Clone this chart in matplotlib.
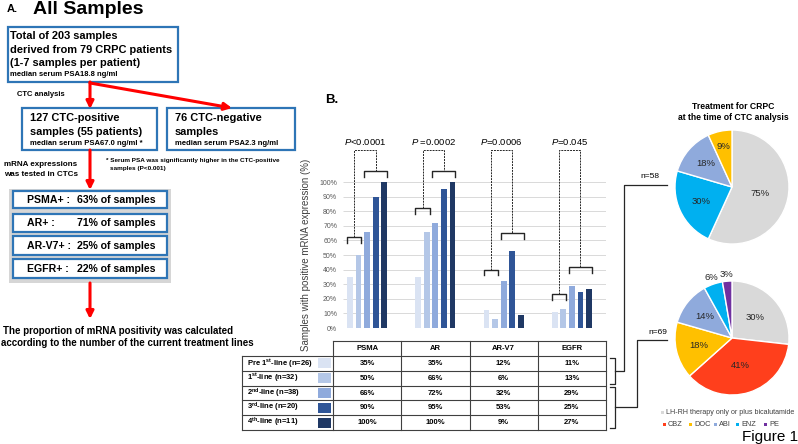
import matplotlib
matplotlib.use('Agg')
import matplotlib.pyplot as plt
from matplotlib.patches import Rectangle
import numpy as np

plt.rcParams['font.family'] = ['Liberation Sans', 'DejaVu Sans']
plt.rcParams['mathtext.fontset'] = 'custom'
plt.rcParams['mathtext.rm'] = 'Liberation Sans'
plt.rcParams['mathtext.it'] = 'Liberation Sans:italic'
plt.rcParams['mathtext.bf'] = 'Liberation Sans:bold'

# ---- data ----
genes = ['PSMA', 'AR', 'AR-V7', 'EGFR']
line_labels = ['Pre 1$^{\\mathbf{st}}$-line (n=26)', '1$^{\\mathbf{st}}$-line (n=32)',
               '2$^{\\mathbf{nd}}$-line (n=38)', '3$^{\\mathbf{rd}}$-line (n=20)',
               '4$^{\\mathbf{th}}$-line (n=11)']
pre_first = [35, 35, 12, 11]
first_line = [50, 66, 6, 13]
second_line = [66, 72, 32, 29]
third_line = [90, 95, 53, 25]
fourth_line = [100, 100, 9, 27]
p_values = ['<0.0001', ' =0.0002', '=0.0006', '=0.045']
overall_labels = ['PSMA+ :', 'AR+ :', 'AR-V7+ :', 'EGFR+ :']
overall_pct = [63, 71, 25, 22]

pie1_values = [75, 30, 18, 9]
pie1_colors = ['#D9D9D9', '#00B0F0', '#8FAADC', '#FFC000']
pie2_values = [30, 41, 18, 14, 6, 3]
pie2_colors = ['#D9D9D9', '#FF3F1C', '#FFC000', '#8FAADC', '#00B0F0', '#7030A0']
legend_names = ['CBZ', 'DOC', 'ABI', 'ENZ', 'PE']

line_values = [pre_first, first_line, second_line, third_line, fourth_line]
bar_colors = ['#DAE3F3', '#B4C7E7', '#8FAADC', '#2F5597', '#1F3864']

W, H = 798, 444
fig = plt.figure(figsize=(W / 100, H / 100), dpi=100)
bg = fig.add_axes([0, 0, 1, 1])
bg.set_xlim(0, W)
bg.set_ylim(H, 0)
bg.axis('off')

def box(x0, y0, x1, y1, lw=1.6, fc='white', ec='#2E75B6'):
    bg.add_patch(Rectangle((x0, y0), x1 - x0, y1 - y0, fc=fc, ec=ec, lw=lw))

def arrow(x0, y0, x1, y1):
    bg.annotate('', xy=(x1, y1), xytext=(x0, y0),
                arrowprops=dict(arrowstyle='-|>', color='#FF0000', lw=2.2,
                                mutation_scale=11, shrinkA=0, shrinkB=0))

# ---- panel A ----
bg.text(7, 9, 'A.', fontsize=8, fontweight='bold', va='center')
bg.text(33, 10, 'All Samples', fontsize=14, fontweight='bold', va='center')

big = 7.9
box(8, 27, 178, 82)
bg.text(10, 36, 'Total of 203 samples', fontsize=big, fontweight='bold', va='center')
bg.text(10, 50, 'derived from 79 CRPC patients', fontsize=big, fontweight='bold', va='center')
bg.text(10, 63, '(1-7 samples per patient)', fontsize=big, fontweight='bold', va='center')
bg.text(10, 75, 'median serum PSA18.8 ng/ml', fontsize=5.5, fontweight='bold', va='center')

arrow(90, 82, 90, 109)
arrow(90, 83, 232, 108)
bg.text(17, 95, 'CTC analysis', fontsize=5.5, fontweight='bold', va='center')

box(22, 108, 157, 150)
bg.text(30, 118, '127 CTC-positive', fontsize=big, fontweight='bold', va='center')
bg.text(30, 132, 'samples (55 patients)', fontsize=big, fontweight='bold', va='center')
bg.text(30, 143, 'median serum PSA67.0 ng/ml *', fontsize=5.5, fontweight='bold', va='center')

box(167, 108, 295, 150)
bg.text(175, 118, '76 CTC-negative', fontsize=big, fontweight='bold', va='center')
bg.text(175, 132, 'samples', fontsize=big, fontweight='bold', va='center')
bg.text(175, 143, 'median serum PSA2.3 ng/ml', fontsize=5.5, fontweight='bold', va='center')

bg.text(106, 160, '* Serum PSA was significantly higher in the CTC-positive',
        fontsize=4.6, fontweight='bold', va='center')
bg.text(110, 168, 'samples (P<0.001)', fontsize=4.6, fontweight='bold', va='center')

bg.text(4, 164, 'mRNA expressions', fontsize=5.8, fontweight='bold', va='center')
bg.text(4, 174, 'was tested in CTCs', fontsize=5.8, fontweight='bold', va='center')
arrow(90, 150, 90, 190)

bg.add_patch(Rectangle((9, 189), 162, 94, fc='#D6D6D6', ec='none'))
rows_y = [(191, 208), (214, 232), (236, 255), (259, 278)]
for (y0, y1), lab, pct in zip(rows_y, overall_labels, overall_pct):
    box(13, y0, 167, y1)
    bg.text(27, (y0 + y1) / 2, lab, fontsize=7.6, fontweight='bold', va='center')
    bg.text(77, (y0 + y1) / 2, f'{pct}% of samples', fontsize=7.6, fontweight='bold', va='center')

arrow(90, 283, 90, 319)
bg.text(3, 331, 'The proportion of mRNA positivity was calculated',
        fontsize=7, fontweight='bold', va='center')
bg.text(1, 343, 'according to the number of the current treatment lines',
        fontsize=7, fontweight='bold', va='center')

# ---- panel B: bars ----
bg.text(325, 100, 'B.', fontsize=9.5, fontweight='bold', va='center')

col_x0, col_w = 333, 68.25
ax_x0, ax_y0, ax_y1 = col_x0, 182, 328
bax = fig.add_axes([ax_x0 / W, 1 - ax_y1 / H, 4 * col_w / W, (ax_y1 - ax_y0) / H])
bax.set_facecolor('none')
bax.set_xlim(0, 4)
bax.set_ylim(0, 1)
for s in bax.spines.values():
    s.set_visible(False)
bax.set_xticks([])
ticks = np.arange(0, 1.01, 0.1)
bax.set_yticks(ticks)
bax.set_yticklabels([f'{int(round(t * 100))}%' for t in ticks], fontsize=5, color='#595959')
bax.tick_params(axis='y', length=0, pad=-3)
bax.hlines(ticks, 0.15, 4, color='#D9D9D9', lw=0.7, zorder=0)
bax.set_ylabel('Samples with positive mRNA expression (%)', fontsize=7, color='#404040', labelpad=6)

step, bw = 0.125, 0.085
offsets = (np.arange(5) - 2) * step
for k, vals in enumerate(line_values):
    xs = np.arange(4) + 0.5 + offsets[k]
    bax.bar(xs, np.array(vals) / 100, width=bw, color=bar_colors[k], zorder=2)

low_br = [0.62, 0.82, 0.40, 0.23]
high_br = [1.075, 1.075, 0.65, 0.42]
top_y, leg = 1.22, 0.04
for i in range(4):
    c = i + 0.5
    l0, l1 = c + offsets[0] - bw / 2, c + offsets[1] + bw / 2
    h0, h1 = c + offsets[2] - bw / 2, c + offsets[4] + bw / 2
    for a, b, y in [(l0, l1, low_br[i]), (h0, h1, high_br[i])]:
        bax.plot([a, a, b, b], [y - leg, y, y, y - leg], color='#262626', lw=1, clip_on=False)
    m0, m1 = (l0 + l1) / 2, (h0 + h1) / 2
    bax.plot([m0, m0, m1, m1], [low_br[i], top_y, top_y, high_br[i]],
             color='#262626', lw=0.7, ls=(0, (2, 1)), clip_on=False)
    bax.text((m0 + m1) / 2, top_y + 0.055, '$\\mathit{P}$' + p_values[i], fontsize=6.8,
             ha='center', va='center', clip_on=False)

# ---- table ----
row_edges = [356, 370.8, 385.6, 400.4, 415.2, 430]
tcol = '#404040'
for j in range(5):
    bg.plot([col_x0 + j * col_w] * 2, [341, 430], color=tcol, lw=0.8)
bg.plot([col_x0, col_x0 + 4 * col_w], [341, 341], color=tcol, lw=0.8)
for y in row_edges:
    bg.plot([242, col_x0 + 4 * col_w], [y, y], color=tcol, lw=0.8)
bg.plot([242, 242], [356, 430], color=tcol, lw=0.8)
for j, g in enumerate(genes):
    bg.text(col_x0 + (j + 0.5) * col_w, 348.5, g, fontsize=5.5, fontweight='bold',
            ha='center', va='center')
for k in range(5):
    yc = (row_edges[k] + row_edges[k + 1]) / 2
    bg.text(247, yc, line_labels[k], fontsize=5.5, fontweight='bold', va='center')
    bg.add_patch(Rectangle((318, yc - 5), 13, 10, fc=bar_colors[k], ec='none'))
    for j in range(4):
        bg.text(col_x0 + (j + 0.5) * col_w, yc, f'{line_values[k][j]}%', fontsize=5.5,
                fontweight='bold', ha='center', va='center')

# side brackets and connectors
bcol = '#262626'
bg.plot([610, 615, 615, 610], [358, 358, 384, 384], color=bcol, lw=0.9)
bg.plot([615, 624, 624, 667], [371, 371, 185, 185], color=bcol, lw=0.9)
bg.plot([610, 615, 615, 610], [387, 387, 428, 428], color=bcol, lw=0.9)
bg.plot([615, 637, 637, 667], [407, 407, 340, 340], color=bcol, lw=0.9)
bg.text(640, 176, 'n=58', fontsize=6, va='center')
bg.text(648, 332, 'n=69', fontsize=6, va='center')

# ---- pies ----
bg.text(733, 106, 'Treatment for CRPC', fontsize=6.2, fontweight='bold', ha='center', va='center')
bg.text(733, 117, 'at the time of CTC analysis', fontsize=6.2, fontweight='bold', ha='center', va='center')

def pie(cx, cy, r, vals, cols, rad):
    pax = fig.add_axes([(cx - r) / W, 1 - (cy + r) / H, 2 * r / W, 2 * r / H])
    wedges, _ = pax.pie(vals, colors=cols, startangle=90, counterclock=False,
                        wedgeprops=dict(edgecolor='white', linewidth=1))
    pax.set_xlim(-1, 1)
    pax.set_ylim(-1, 1)
    for w, v, rr in zip(wedges, vals, rad):
        ang = np.deg2rad((w.theta1 + w.theta2) / 2)
        pax.text(rr * np.cos(ang), rr * np.sin(ang), f'{v}%', fontsize=6.8,
                 ha='center', va='center', color='#262626', clip_on=False)

pie(732, 187, 57, pie1_values, pie1_colors, [0.5, 0.6, 0.62, 0.72])
pie(732, 338, 57, pie2_values, pie2_colors, [0.55, 0.5, 0.6, 0.6, 1.12, 1.12])

# legend
bg.add_patch(Rectangle((661, 410.5), 3, 3, fc='#D9D9D9', ec='none'))
bg.text(666, 412, 'LH-RH therapy only or plus bicalutamide', fontsize=5.1, color='#404040', va='center')
leg_x = [667, 693, 718, 740, 768]
for x, name, c in zip(leg_x, legend_names, pie2_colors[1:]):
    bg.add_patch(Rectangle((x - 4, 423), 3, 3, fc=c, ec='none'))
    bg.text(x + 1, 424.5, name, fontsize=5.3, color='#404040', va='center')

bg.text(742, 437, 'Figure 1', fontsize=11, va='center')

fig.savefig('out.png', dpi=100)
